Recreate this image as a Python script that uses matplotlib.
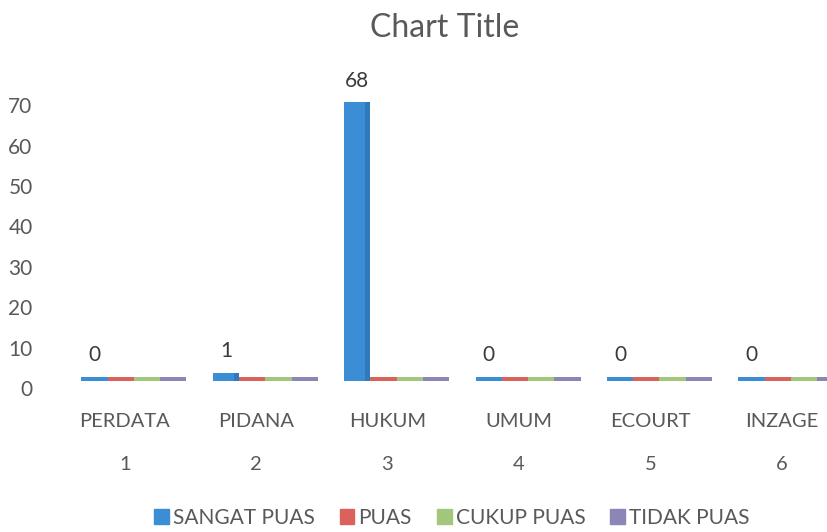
import matplotlib
matplotlib.use("Agg")
import matplotlib.pyplot as plt
import numpy as np

categories = ["PERDATA", "PIDANA", "HUKUM", "UMUM", "ECOURT", "INZAGE"]
group_numbers = ["1", "2", "3", "4", "5", "6"]
series_names = ["SANGAT PUAS", "PUAS", "CUKUP PUAS", "TIDAK PUAS"]
sangat_puas = [0, 1, 68, 0, 0, 0]
puas = [0, 0, 0, 0, 0, 0]
cukup_puas = [0, 0, 0, 0, 0, 0]
tidak_puas = [0, 0, 0, 0, 0, 0]
series_values = [sangat_puas, puas, cukup_puas, tidak_puas]
y_ticks = [0, 10, 20, 30, 40, 50, 60, 70]

colors = ["#3b8ed6", "#d9625a", "#a3c77a", "#8a86b5"]
side_colors = ["#3079bb", "#bf5750", "#8fb168", "#77749f"]
text_color = "#595959"

plt.rcParams["font.family"] = ["Lato", "DejaVu Sans"]

fig = plt.figure(figsize=(8.28, 5.32), dpi=100)
W, H = 828, 532
left_px, right_px, bottom_px, top_px = 59, 828, 388, 85
ax = fig.add_axes([left_px / W, 1 - bottom_px / H, (right_px - left_px) / W, (bottom_px - top_px) / H])

spacing_px = 131.4
x_max = -0.5 + (right_px - left_px) / spacing_px
ax.set_xlim(-0.5, x_max)
ax.set_ylim(0, 75)

floor = 1.8   # visual 3D floor elevation
slab = 1.0    # visual thickness of the floor slab
bar_w = 0.2
group_shift = 0.07
x = np.arange(len(categories))

for i, (vals, c, sc) in enumerate(zip(series_values, colors, side_colors)):
    xs = x + group_shift + (i - 1.5) * bar_w
    heights = np.array(vals, dtype=float) + slab
    ax.bar(xs, heights, width=bar_w, bottom=floor, color=c, edgecolor="none",
           label=series_names[i], zorder=3 + i * 0.01)
    # darker right side strip on raised bars to suggest 3D depth
    tall = np.array(vals) > 0
    if tall.any():
        ax.bar(xs[tall] + bar_w * 0.4, heights[tall], width=bar_w * 0.2, bottom=floor,
               color=sc, edgecolor="none", zorder=3.5 + i * 0.01)

# data labels for SANGAT PUAS
for xi, v in zip(x, sangat_puas):
    ax.text(xi + group_shift - 1.5 * bar_w, floor + v + slab + 2.8, str(v),
            ha="center", va="bottom", fontsize=15, color="#3a3a3a", clip_on=False)

ax.set_yticks(y_ticks)
ax.set_yticklabels([str(t) for t in y_ticks], fontsize=15, color=text_color)
ax.set_xticks(x)
ax.set_xticklabels([f"{c}\n\n{n}" for c, n in zip(categories, group_numbers)],
                   fontsize=14.5, color=text_color, linespacing=1.32)
ax.tick_params(axis="both", length=0)
ax.tick_params(axis="y", pad=19)
ax.tick_params(axis="x", pad=18)
for s in ax.spines.values():
    s.set_visible(False)

fig.text(445 / W, 1 - 28 / H, "Chart Title", ha="center", va="center",
         fontsize=23, color=text_color)

handles = [plt.Rectangle((0, 0), 1, 1, color=c) for c in colors]
fig.legend(handles, series_names, loc="center", bbox_to_anchor=(452 / W, 1 - 518 / H),
           ncol=4, frameon=False, fontsize=15, handlelength=0.7, handleheight=0.7,
           handletextpad=0.2, columnspacing=1.2, labelcolor=text_color)

fig.savefig("out.png", dpi=100)
